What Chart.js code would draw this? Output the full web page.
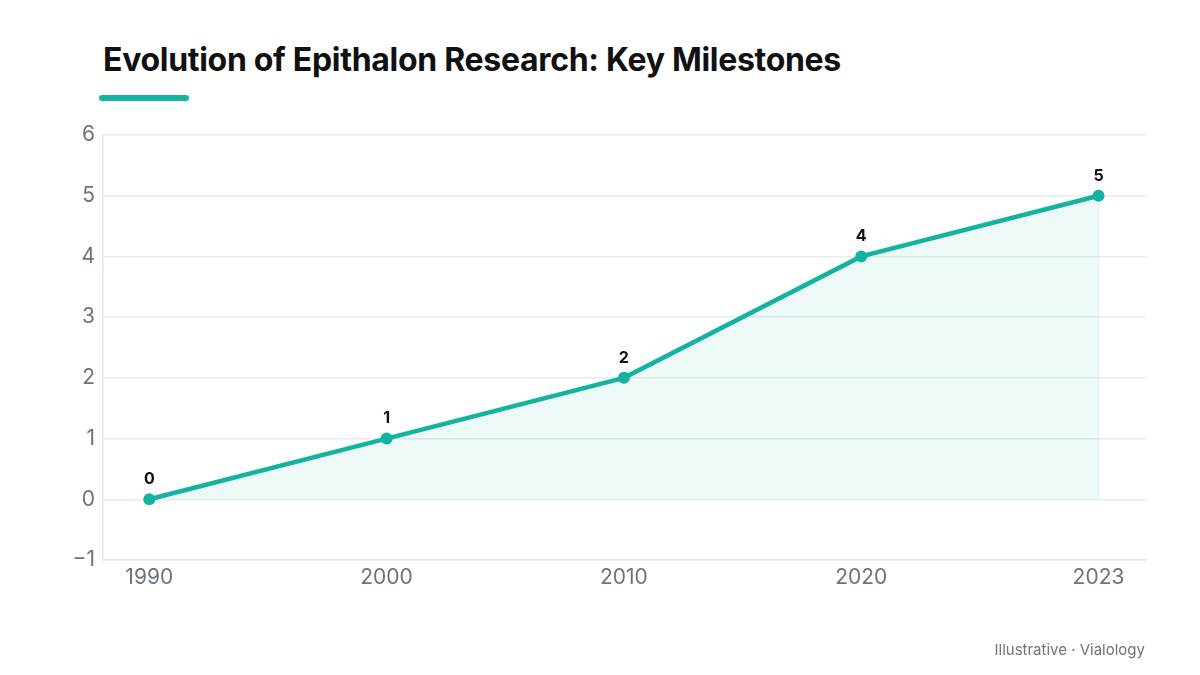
<!DOCTYPE html>
<html lang="en">
<head>
    <meta charset="UTF-8">
    <title>Evolution of Epithalon Research</title>
    <script src="https://cdn.jsdelivr.net/npm/chart.js"></script>
    <style>
        body {
            margin: 0;
            background: #fff;
            font-family: Inter, "Noto Sans", sans-serif;
        }
        .wrap {
            position: relative;
            width: 1200px;
            height: 675px;
        }
        h1 {
            position: absolute;
            left: 103px;
            top: 40px;
            margin: 0;
            font-size: 32px;
            font-weight: 700;
            color: #111;
            letter-spacing: -0.3px;
        }
        .bar {
            position: absolute;
            left: 99px;
            top: 95px;
            width: 90px;
            height: 6px;
            border-radius: 3px;
            background: #14b3a0;
        }
        .note {
            position: absolute;
            right: 55px;
            top: 640px;
            font-size: 15px;
            color: #6b7280;
        }
        canvas {
            position: absolute;
            left: 0;
            top: 0;
        }
    </style>
</head>
<body>
<div class="wrap">
    <h1>Evolution of Epithalon Research: Key Milestones</h1>
    <div class="bar"></div>
    <canvas id="chart" width="1200" height="675"></canvas>
    <div class="note">Illustrative · Vialology</div>
</div>

<script>
    const years = ['1990', '2000', '2010', '2020', '2023'];
    const milestones = [0, 1, 2, 4, 5];
    const yTicks = [-1, 0, 1, 2, 3, 4, 5, 6];

    const teal = '#14b3a0';

    // value labels above each point
    const valueLabels = {
        id: 'valueLabels',
        afterDatasetsDraw(chart) {
            const ctx = chart.ctx;
            const meta = chart.getDatasetMeta(0);
            ctx.save();
            ctx.font = '700 16px Inter, sans-serif';
            ctx.fillStyle = '#111';
            ctx.textAlign = 'center';
            ctx.textBaseline = 'bottom';
            meta.data.forEach((pt, i) => {
                ctx.fillText(String(milestones[i]), pt.x, pt.y - 12);
            });
            ctx.restore();
        }
    };

    // faint edge on the right side of the filled area
    const fillEdge = {
        id: 'fillEdge',
        beforeDatasetsDraw(chart) {
            const meta = chart.getDatasetMeta(0);
            const last = meta.data[meta.data.length - 1];
            const y0 = chart.scales.y.getPixelForValue(0);
            const ctx = chart.ctx;
            ctx.save();
            ctx.strokeStyle = 'rgba(20,179,160,0.12)';
            ctx.lineWidth = 1;
            ctx.beginPath();
            ctx.moveTo(last.x, last.y);
            ctx.lineTo(last.x, y0);
            ctx.stroke();
            ctx.restore();
        }
    };

    const ctx = document.getElementById('chart').getContext('2d');
    new Chart(ctx, {
        type: 'line',
        data: {
            datasets: [{
                data: milestones.map((v, i) => ({ x: i, y: v })),
                borderColor: teal,
                backgroundColor: 'rgba(20,179,160,0.08)',
                borderWidth: 4.5,
                pointRadius: 6,
                pointBackgroundColor: teal,
                pointBorderWidth: 0,
                fill: 'origin',
                tension: 0
            }]
        },
        options: {
            responsive: false,
            animation: false,
            layout: { padding: { top: 135, right: 54, left: 0, bottom: 0 } },
            plugins: {
                legend: { display: false },
                tooltip: { enabled: false }
            },
            scales: {
                x: {
                    type: 'linear',
                    min: -0.195,
                    max: 4.2,
                    afterBuildTicks: s => { s.ticks = years.map((_, i) => ({ value: i })); },
                    afterFit: s => { s.height = 115; },
                    grid: { display: false },
                    border: { color: '#e3e7e8', width: 1.5 },
                    ticks: {
                        callback: v => years[v],
                        color: '#6b7280',
                        font: { family: 'Inter', size: 21 },
                        padding: -3,
                        maxRotation: 0
                    }
                },
                y: {
                    min: -1,
                    max: 6,
                    afterBuildTicks: s => { s.ticks = yTicks.map(v => ({ value: v })); },
                    afterFit: s => { s.width = 103; },
                    grid: { color: '#e8ecec', lineWidth: 1.5, drawTicks: false },
                    border: { color: '#e3e7e8', width: 1.5 },
                    ticks: {
                        callback: v => v < 0 ? '\u2212' + Math.abs(v) : v,
                        color: '#6b7280',
                        font: { family: 'Inter', size: 21 },
                        padding: 8
                    }
                }
            }
        },
        plugins: [fillEdge, valueLabels]
    });
</script>
</body>
</html>
